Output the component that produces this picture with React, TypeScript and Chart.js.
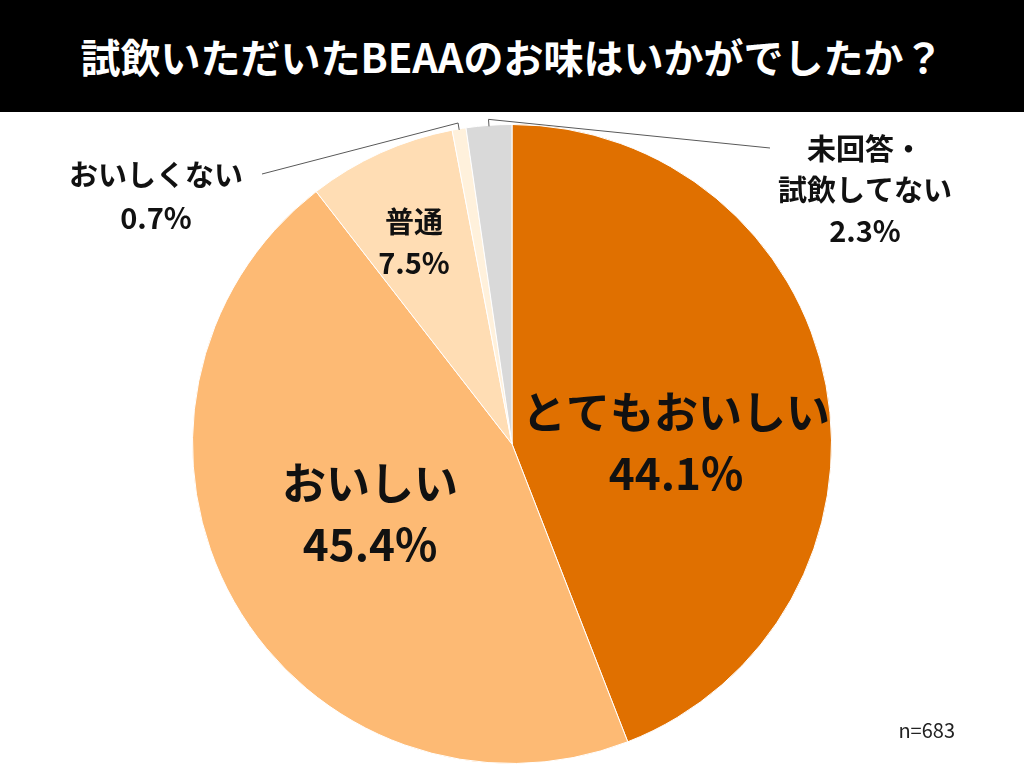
import React, { useEffect, useRef } from 'react';
import { Chart, ArcElement, PieController } from 'chart.js';

Chart.register(ArcElement, PieController);

const title = '試飲いただいたBEAAのお味はいかがでしたか？';
const categories = ['とてもおいしい', 'おいしい', '普通', 'おいしくない', '未回答・\n試飲してない'];
const shares = [44.1, 45.4, 7.5, 0.7, 2.3];
const sampleNote = 'n=683';

const colors = ['#E07000', '#FDBA74', '#FFDDB4', '#FFF1DC', '#D9D9D9'];
const FONT = '"Noto Sans CJK JP", "Noto Sans", sans-serif';

// label block centre relative to pie centre, font size, line gap, leader end (or null)
const labelLayout = [
    { dx: 164, dy: -1, size: 44, gap: 61, leader: null },
    { dx: -142, dy: 70, size: 44, gap: 61, leader: null },
    { dx: -98, dy: -202, size: 29, gap: 41, leader: null },
    { dx: -356, dy: -248, size: 29, gap: 43, leader: { x: -250, y: -270 } },
    { dx: 353, dy: -254, size: 29, gap: 41, leader: { x: 258, y: -296 } },
];

const labelPlugin = {
    id: 'sliceLabels',
    afterDatasetsDraw(chart: any) {
        const ctx = chart.ctx;
        const meta = chart.getDatasetMeta(0);
        meta.data.forEach((arc: any, i: number) => {
            const { x, y, outerRadius, startAngle, endAngle } = arc.getProps(
                ['x', 'y', 'outerRadius', 'startAngle', 'endAngle'], true);
            const lay = labelLayout[i];
            const lines = [...categories[i].split('\n'), shares[i].toFixed(1) + '%'];
            ctx.save();
            if (lay.leader) {
                const mid = (startAngle + endAngle) / 2;
                ctx.strokeStyle = '#595959';
                ctx.lineWidth = 1;
                ctx.beginPath();
                ctx.moveTo(x + Math.cos(mid) * (outerRadius - 1), y + Math.sin(mid) * (outerRadius - 1));
                ctx.lineTo(x + Math.cos(mid) * (outerRadius + 6), y + Math.sin(mid) * (outerRadius + 6));
                ctx.lineTo(x + lay.leader.x, y + lay.leader.y);
                ctx.stroke();
            }
            ctx.fillStyle = '#111';
            ctx.font = `bold ${lay.size}px ${FONT}`;
            ctx.textAlign = 'center';
            ctx.textBaseline = 'middle';
            const top = y + lay.dy - ((lines.length - 1) * lay.gap) / 2;
            lines.forEach((t, k) => ctx.fillText(t, x + lay.dx, top + k * lay.gap));
            ctx.restore();
        });
    },
};

export default function App() {
    const chartRef = useRef<HTMLCanvasElement | null>(null);
    const chartInstance = useRef<Chart | null>(null);

    useEffect(() => {
        if (!chartRef.current) return;
        if (chartInstance.current) chartInstance.current.destroy();

        chartInstance.current = new Chart(chartRef.current, {
            type: 'pie',
            data: {
                labels: categories,
                datasets: [
                    {
                        data: shares,
                        backgroundColor: colors,
                        borderColor: '#ffffff',
                        borderWidth: 1,
                    },
                ],
            },
            options: {
                animation: false,
                responsive: true,
                maintainAspectRatio: false,
                layout: { padding: { top: 12, bottom: 4 } },
                plugins: {
                    legend: { display: false },
                    tooltip: { enabled: false },
                },
            },
            plugins: [labelPlugin],
        });

        return () => {
            if (chartInstance.current) {
                chartInstance.current.destroy();
                chartInstance.current = null;
            }
        };
    }, []);

    return (
        <div style={{ position: 'fixed', left: 0, top: 0, width: 1024, height: 768, background: '#fff', fontFamily: FONT }}>
            <div style={{
                height: 112, background: '#000', color: '#fff', fontSize: 40, fontWeight: 700,
                display: 'flex', alignItems: 'center', justifyContent: 'center',
            }}>
                {title}
            </div>
            <div style={{ position: 'absolute', left: 0, top: 112, width: 1024, height: 656 }}>
                <canvas ref={chartRef}></canvas>
            </div>
            <div style={{ position: 'absolute', right: 69, top: 715, fontSize: 20, color: '#222' }}>{sampleNote}</div>
        </div>
    );
}
